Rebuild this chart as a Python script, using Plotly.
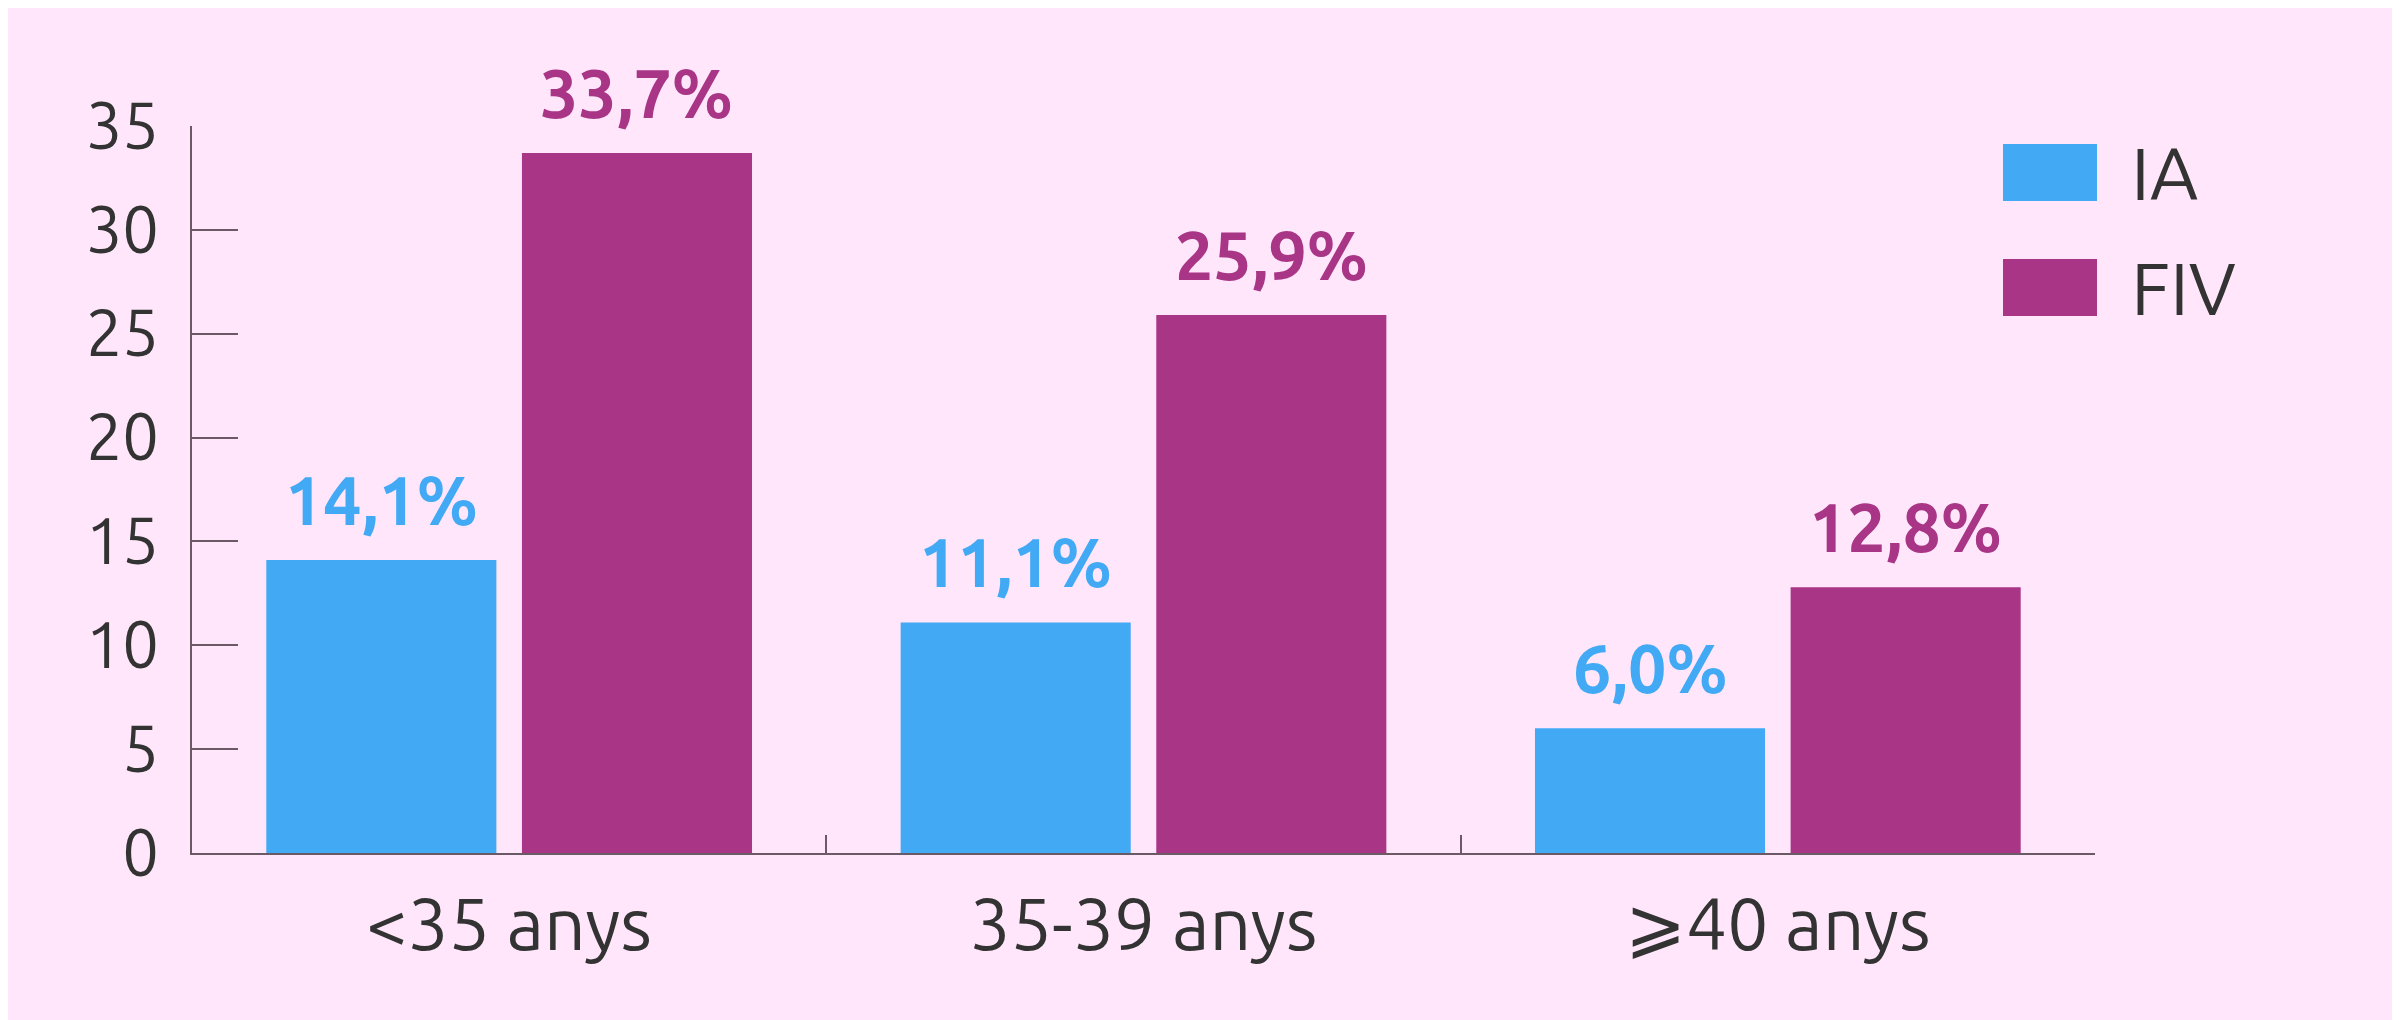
import plotly.graph_objects as go

# dades: taxa d'embaràs per cicle segons l'edat
categories = ['<35 anys', '35-39 anys', '⩾40 anys']
series = ['IA', 'FIV']
ia = [14.1, 11.1, 6.0]
fiv = [33.7, 25.9, 12.8]
y_ticks = [0, 5, 10, 15, 20, 25, 30, 35]

colors = {'IA': '#42A9F4', 'FIV': '#A93587'}
fons = '#FFE6FA'
text_fosc = '#333333'
font_fam = 'Ubuntu, Lato, sans-serif'

W, H = 2400, 1020
# el body de la pàgina té 8px de marge: es compensa aquí
marge = dict(l=184, r=313, t=118, b=175)
pw = W - marge['l'] - marge['r']
ph = H - marge['t'] - marge['b']
bargap, bargroupgap = 0.194, 0.10

fig = go.Figure()
for nom, valors in zip(series, [ia, fiv]):
    fig.add_trace(go.Bar(x=categories, y=valors, name=nom,
                         marker=dict(color=colors[nom], line=dict(width=0)),
                         showlegend=False, hoverinfo='skip'))

# etiquetes de valor damunt de cada barra
amplada_cat = pw / len(categories)
slot = amplada_cat * (1 - bargap) / 2
for i, (nom, valors) in enumerate(zip(series, [ia, fiv])):
    desplac = (i - 0.5) * slot
    for cat, v in zip(categories, valors):
        fig.add_annotation(x=cat, y=v, text='<b>' + f'{v:.1f}'.replace('.', ',') + '%</b>',
                           showarrow=False, xshift=desplac, yshift=20, yanchor='bottom',
                           font=dict(family=font_fam, size=68, color=colors[nom]))

# llegenda feta a mà (els quadrats de plotly són massa petits)
def px_x(x):
    return (x - marge['l']) / pw

def px_y(y):
    return (H - marge['b'] - y) / ph

for i, nom in enumerate(series):
    top = 136 + i * 115
    fig.add_shape(type='rect', xref='paper', yref='paper',
                  x0=px_x(1995), x1=px_x(2089), y0=px_y(top), y1=px_y(top + 57),
                  fillcolor=colors[nom], line=dict(width=0))
    fig.add_annotation(xref='paper', yref='paper', x=px_x(2121), y=px_y(top + 28),
                       text=nom, showarrow=False, xanchor='left', yanchor='middle',
                       font=dict(family=font_fam, size=74, color=text_fosc))

fig.update_layout(
    width=W, height=H, margin=marge,
    paper_bgcolor=fons, plot_bgcolor=fons,
    barmode='group', bargap=bargap, bargroupgap=bargroupgap,
    font=dict(family=font_fam, color=text_fosc),
    xaxis=dict(type='category', range=[-0.5, 2.5], showline=True, linecolor='#6b5a66', linewidth=2,
               ticks='inside', tickson='boundaries', ticklen=18, tickcolor='#6b5a66', tickwidth=2,
               showgrid=False, tickfont=dict(size=73, color=text_fosc), ticklabelstandoff=7),
    yaxis=dict(range=[0, 35], tickvals=y_ticks, showline=True, linecolor='#6b5a66', linewidth=2,
               ticks='inside', ticklen=46, tickcolor='#6b5a66', tickwidth=2,
               showgrid=False, zeroline=False, tickfont=dict(size=65, color=text_fosc),
               ticklabelstandoff=18),
)

fig.write_html('out.html')
